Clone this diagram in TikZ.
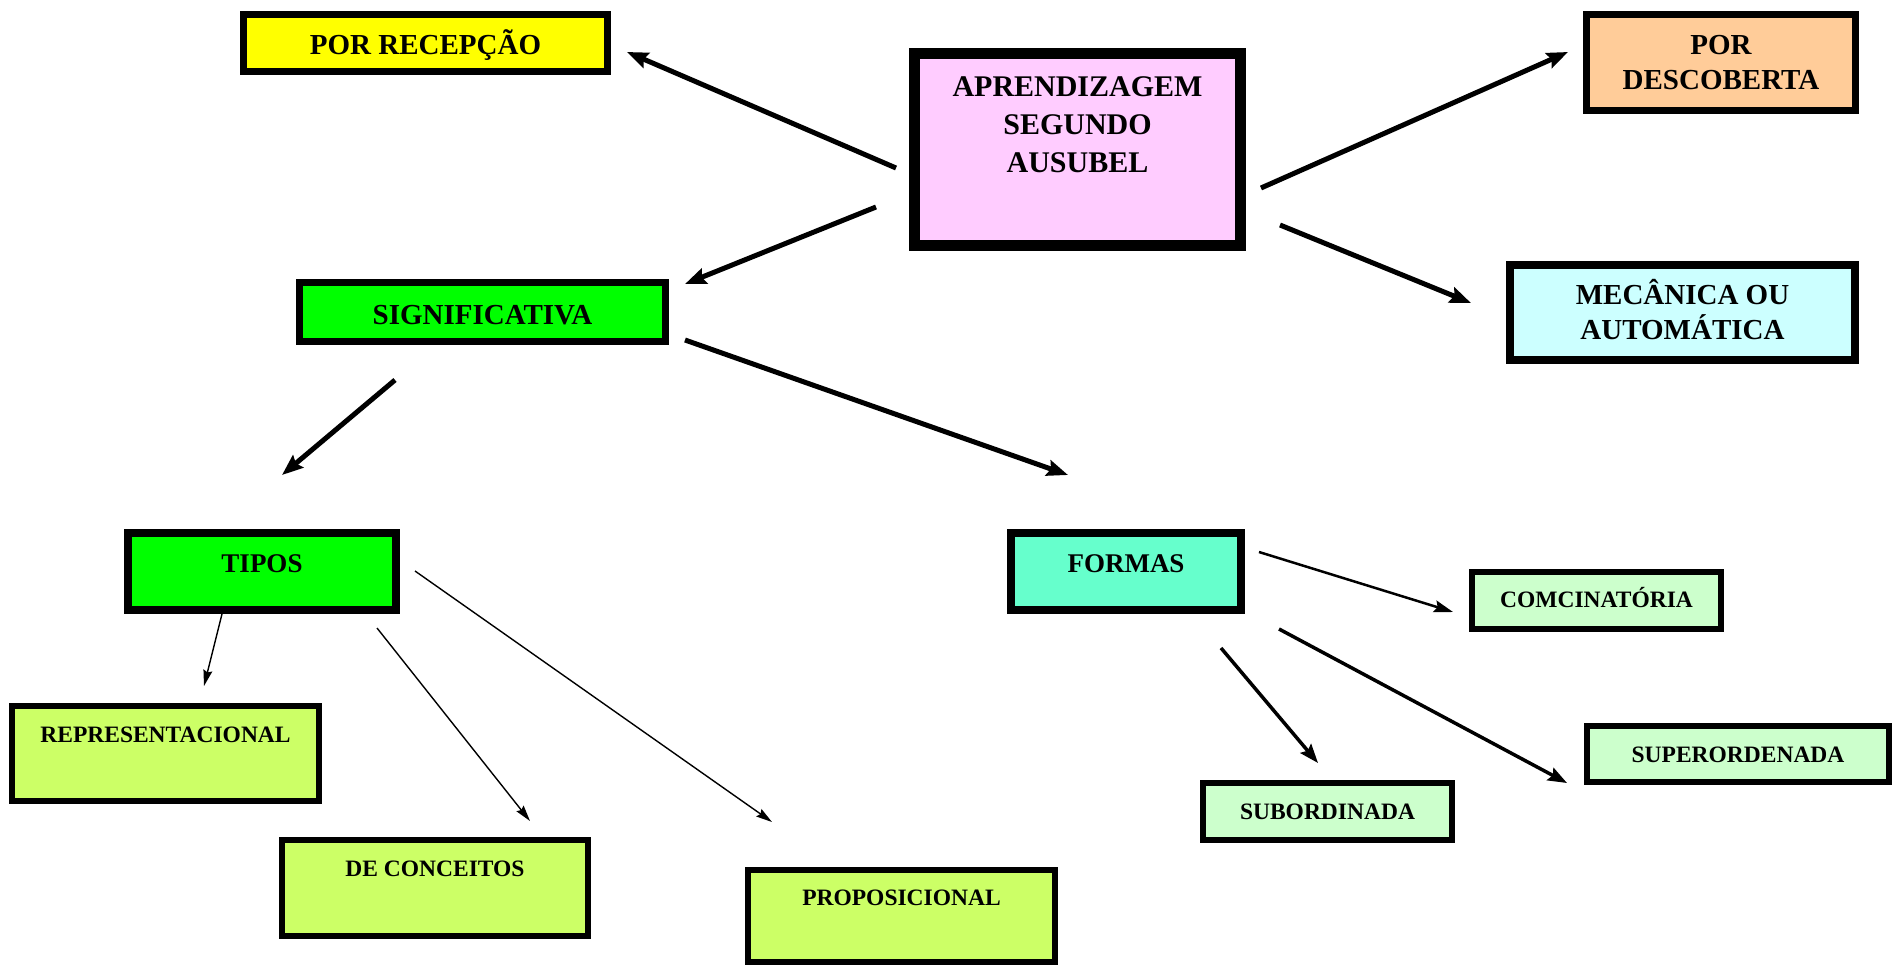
\documentclass[tikz,border=0pt]{standalone}
\usepackage{fontspec}
\setmainfont{Liberation Serif}
\usetikzlibrary{arrows.meta}

\definecolor{ausubelpink}{HTML}{FFCCFF}
\definecolor{recepyellow}{HTML}{FFFF00}
\definecolor{descpeach}{HTML}{FFCC99}
\definecolor{meccyan}{HTML}{CCFFFF}
\definecolor{siggreen}{HTML}{00FF00}
\definecolor{formaqua}{HTML}{66FFCC}
\definecolor{tipolime}{HTML}{CCFF66}
\definecolor{formpale}{HTML}{CCFFCC}

\tikzset{
  concept/.style={draw, inner xsep=0pt, inner ysep=0pt, align=center},
  bigfont/.style={font=\bfseries\fontsize{29}{35}\selectfont},
  smallfont/.style={font=\bfseries\fontsize{23.5}{28}\selectfont},
  bigarrow/.style={line width=5pt, -{Stealth[length=21pt,width=16pt,inset=3pt]}},
  midarrow/.style={line width=3.5pt, -{Stealth[length=19pt,width=14pt,inset=3pt]}},
  thinarrow/.style={line width=1.4pt, -{Stealth[length=16pt,width=9pt,inset=2pt]}},
}

\begin{document}
\begin{tikzpicture}[x=1pt, y=-1pt]
    \useasboundingbox (0,0) rectangle (1892,965);

    % top level
    \node [concept, line width=11pt, fill=ausubelpink, minimum width=326pt,
           text height=119.5pt, text depth=72.5pt,
           font=\bfseries\fontsize{30}{38}\selectfont] (ausubel) at (1077.5,149.5)
          {APRENDIZAGEM\\SEGUNDO\\AUSUBEL};
    \node [concept, bigfont, line width=7pt, fill=recepyellow, minimum width=364pt,
           text height=40.5pt, text depth=16.5pt] (recepcao) at (425.5,43) {POR RECEPÇÃO};
    \node [concept, bigfont, line width=7pt, fill=descpeach, minimum width=269pt,
           text height=75.5pt, text depth=20.5pt] (descoberta) at (1721,62.5) {POR\\DESCOBERTA};
    \node [concept, bigfont, line width=8pt, fill=meccyan, minimum width=345pt,
           text height=75pt, text depth=20pt] (mecanica) at (1682.5,312.5) {MECÂNICA OU\\AUTOMÁTICA};
    \node [concept, bigfont, line width=7pt, fill=siggreen, minimum width=366pt,
           text height=42.5pt, text depth=16.5pt] (signif) at (482.5,312) {SIGNIFICATIVA};

    % second level
    \node [concept, line width=8pt, fill=siggreen, minimum width=268pt,
           text height=39pt, text depth=38pt,
           font=\bfseries\fontsize{27}{32}\selectfont] (tipos) at (262,571.5) {TIPOS};
    \node [concept, line width=8pt, fill=formaqua, minimum width=230pt,
           text height=39pt, text depth=38pt,
           font=\bfseries\fontsize{27}{32}\selectfont] (formas) at (1126,571.5) {FORMAS};

    % tipos
    \node [concept, smallfont, line width=6pt, fill=tipolime, minimum width=307pt,
           text height=36pt, text depth=59pt] (repres) at (165.5,753.5) {REPRESENTACIONAL};
    \node [concept, smallfont, line width=6pt, fill=tipolime, minimum width=306pt,
           text height=36pt, text depth=60pt] (conceitos) at (435,888) {DE CONCEITOS};
    \node [concept, smallfont, line width=6pt, fill=tipolime, minimum width=307pt,
           text height=35pt, text depth=57pt] (propos) at (901.5,916) {PROPOSICIONAL};

    % formas
    \node [concept, smallfont, line width=6pt, fill=formpale, minimum width=249pt,
           text height=35pt, text depth=22pt] (comb) at (1596.5,600.5) {COMCINATÓRIA};
    \node [concept, smallfont, line width=6pt, fill=formpale, minimum width=302pt,
           text height=36pt, text depth=20pt] (superord) at (1738,754) {SUPERORDENADA};
    \node [concept, smallfont, line width=6pt, fill=formpale, minimum width=249pt,
           text height=36pt, text depth=21pt] (subord) at (1327.5,811.5) {SUBORDINADA};

    % arrow ends
    \coordinate (a1s) at (896,168);   \coordinate (a1e) at (627,52);
    \coordinate (a2s) at (876,207);   \coordinate (a2e) at (685,284);
    \coordinate (a3s) at (1261,188);  \coordinate (a3e) at (1568,52);
    \coordinate (a4s) at (1280,225);  \coordinate (a4e) at (1471,303);
    \coordinate (a5s) at (685,340);   \coordinate (a5e) at (1068,475);
    \coordinate (a6s) at (395,380);   \coordinate (a6e) at (282,475);
    \coordinate (a7s) at (222,614);   \coordinate (a7e) at (204,686);
    \coordinate (a8s) at (377,628);   \coordinate (a8e) at (530,821);
    \coordinate (a9s) at (415,571);   \coordinate (a9e) at (772,822);
    \coordinate (a10s) at (1259,552); \coordinate (a10e) at (1453,612);
    \coordinate (a11s) at (1221,648); \coordinate (a11e) at (1318,763);
    \coordinate (a12s) at (1279,629); \coordinate (a12e) at (1567,783);

    \draw [bigarrow] (a1s) -- (a1e);
    \draw [bigarrow] (a2s) -- (a2e);
    \draw [bigarrow] (a3s) -- (a3e);
    \draw [bigarrow] (a4s) -- (a4e);
    \draw [bigarrow] (a5s) -- (a5e);
    \draw [bigarrow] (a6s) -- (a6e);
    \draw [thinarrow] (a7s) -- (a7e);
    \draw [thinarrow] (a8s) -- (a8e);
    \draw [thinarrow] (a9s) -- (a9e);
    \draw [line width=2.5pt, -{Stealth[length=19pt,width=12pt,inset=3pt]}] (a10s) -- (a10e);
    \draw [midarrow] (a11s) -- (a11e);
    \draw [midarrow] (a12s) -- (a12e);
\end{tikzpicture}
\end{document}
